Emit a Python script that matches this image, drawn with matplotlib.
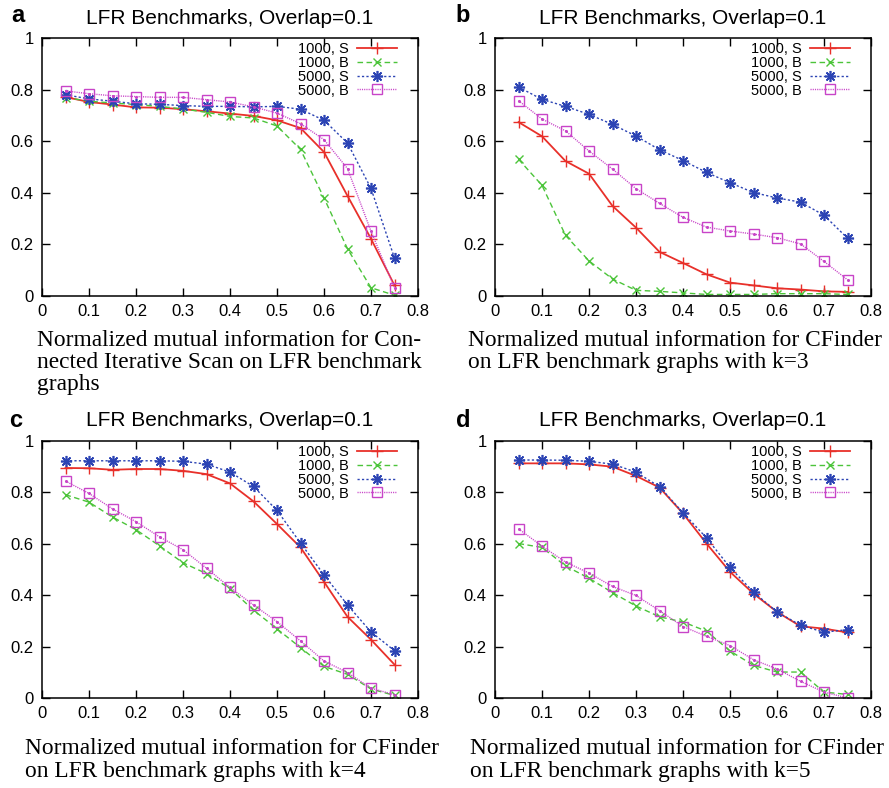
import numpy as np
import matplotlib
matplotlib.use("Agg")
import matplotlib.pyplot as plt
from typing import List, Tuple

# mixing parameter on the x axis
mu = [0.05, 0.1, 0.15, 0.2, 0.25, 0.3, 0.35, 0.4, 0.45, 0.5, 0.55, 0.6, 0.65, 0.7, 0.75]

series_labels = ["1000, S", "1000, B", "5000, S", "5000, B"]

# a: connected iterative scan
nmi_a_1000s = [0.771, 0.752, 0.742, 0.731, 0.730, 0.724, 0.716, 0.707, 0.698, 0.681, 0.651, 0.558, 0.388, 0.222, 0.041]
nmi_a_1000b = [0.769, 0.755, 0.748, 0.742, 0.735, 0.725, 0.712, 0.696, 0.690, 0.659, 0.568, 0.380, 0.183, 0.032, 0.003]
nmi_a_5000s = [0.780, 0.764, 0.755, 0.745, 0.743, 0.738, 0.735, 0.735, 0.733, 0.735, 0.724, 0.681, 0.593, 0.417, 0.147]
nmi_a_5000b = [0.795, 0.784, 0.776, 0.773, 0.770, 0.770, 0.761, 0.752, 0.733, 0.709, 0.668, 0.606, 0.494, 0.251, 0.032]

# b: cfinder k=3
nmi_b_1000s = [0.674, 0.619, 0.523, 0.474, 0.349, 0.265, 0.171, 0.128, 0.084, 0.052, 0.041, 0.030, 0.025, 0.018, 0.016]
nmi_b_1000b = [0.530, 0.429, 0.235, 0.136, 0.066, 0.022, 0.018, 0.012, 0.006, 0.006, 0.006, 0.009, 0.009, 0.009, 0.006]
nmi_b_5000s = [0.810, 0.762, 0.735, 0.704, 0.665, 0.620, 0.567, 0.525, 0.479, 0.439, 0.401, 0.380, 0.364, 0.313, 0.224]
nmi_b_5000b = [0.757, 0.686, 0.640, 0.562, 0.492, 0.416, 0.359, 0.305, 0.267, 0.252, 0.240, 0.226, 0.202, 0.134, 0.063]

# c: cfinder k=4
nmi_c_1000s = [0.895, 0.894, 0.888, 0.891, 0.891, 0.884, 0.871, 0.835, 0.765, 0.677, 0.586, 0.452, 0.316, 0.227, 0.130]
nmi_c_1000b = [0.791, 0.762, 0.704, 0.655, 0.592, 0.526, 0.484, 0.426, 0.342, 0.269, 0.196, 0.123, 0.092, 0.035, 0.010]
nmi_c_5000s = [0.923, 0.923, 0.923, 0.923, 0.923, 0.921, 0.910, 0.879, 0.823, 0.730, 0.603, 0.479, 0.362, 0.257, 0.184]
nmi_c_5000b = [0.844, 0.796, 0.736, 0.686, 0.627, 0.577, 0.505, 0.430, 0.362, 0.297, 0.222, 0.144, 0.099, 0.038, 0.013]

# d: cfinder k=5
nmi_d_1000s = [0.913, 0.913, 0.913, 0.909, 0.900, 0.864, 0.819, 0.718, 0.601, 0.491, 0.406, 0.335, 0.279, 0.270, 0.255]
nmi_d_1000b = [0.601, 0.586, 0.514, 0.466, 0.410, 0.358, 0.316, 0.296, 0.260, 0.183, 0.127, 0.101, 0.101, 0.023, 0.014]
nmi_d_5000s = [0.926, 0.926, 0.925, 0.921, 0.910, 0.879, 0.822, 0.721, 0.623, 0.508, 0.412, 0.335, 0.283, 0.256, 0.266]
nmi_d_5000b = [0.658, 0.591, 0.529, 0.486, 0.434, 0.399, 0.340, 0.278, 0.240, 0.204, 0.149, 0.113, 0.065, 0.023, 0.000]

x_ticks = [0, 0.1, 0.2, 0.3, 0.4, 0.5, 0.6, 0.7, 0.8]
x_tick_labels = ["0", "0.1", "0.2", "0.3", "0.4", "0.5", "0.6", "0.7", "0.8"]
y_ticks = [0, 0.2, 0.4, 0.6, 0.8, 1.0]
y_tick_labels = ["0", "0.2", "0.4", "0.6", "0.8", "1"]

panel_title = "LFR Benchmarks, Overlap=0.1"
panel_letters = ["a", "b", "c", "d"]
captions = [
    ["Normalized mutual information for Con-",
     "nected Iterative Scan on LFR benchmark",
     "graphs"],
    ["Normalized mutual information for CFinder",
     "on LFR benchmark graphs with k=3"],
    ["Normalized mutual information for CFinder",
     "on LFR benchmark graphs with k=4"],
    ["Normalized mutual information for CFinder",
     "on LFR benchmark graphs with k=5"],
]

W, H = 889, 788
SANS = "Liberation Sans"
SERIF = "Liberation Serif"

styles = [
    dict(color="#e8302a", ls="-", marker="+", ms=8, mew=1.0, lw=1.3),
    dict(color="#4cc43a", ls=(0, (4, 2.5)), marker="x", ms=6, mew=1.0, lw=1.0),
    dict(color="#2c44b4", ls=(0, (1.6, 1.6)), marker=(8, 2, 0), ms=8, mew=1.2, lw=1.0),
    dict(color="#c844c8", ls=(0, (0.8, 0.8)), marker="s", ms=6.5, mew=1.0, lw=1.0, mfc="none"),
]


def px_axes(fig, left: float, top: float, right: float, bottom: float):
    return fig.add_axes([left / W, 1 - bottom / H, (right - left) / W, (bottom - top) / H])


def draw_panel(ax, series: List[List[float]]) -> None:
    for vals, label, st in zip(series, series_labels, styles):
        ax.plot(mu, vals, label=label, **st)
    # gnuplot draws a small dot inside the open squares
    ax.plot(mu, series[3], ls="none", marker="o", ms=1.2, color=styles[3]["color"])
    ax.set_xlim(0, 0.8)
    ax.set_ylim(0, 1)
    ax.set_xticks(x_ticks)
    ax.set_xticklabels(x_tick_labels)
    ax.set_yticks(y_ticks)
    ax.set_yticklabels(y_tick_labels)
    ax.tick_params(direction="in", length=5.5, width=1.0, top=True, right=True,
                   labelsize=12, pad=6, colors="black")
    for lab in ax.get_xticklabels() + ax.get_yticklabels():
        lab.set_fontfamily(SANS)
    for sp in ax.spines.values():
        sp.set_linewidth(1.1)
    ax.legend(loc="upper right", bbox_to_anchor=(0.955, 1.0), frameon=False,
              markerfirst=False, handlelength=2.7, handletextpad=0.6,
              labelspacing=-0.02, borderpad=0.0, borderaxespad=0.3,
              prop={"family": SANS, "size": 10.5})


def main() -> None:
    fig = plt.figure(figsize=(W / 100, H / 100), dpi=100)

    panels = [
        ((42, 38, 418, 296), [nmi_a_1000s, nmi_a_1000b, nmi_a_5000s, nmi_a_5000b]),
        ((495, 38, 871, 296), [nmi_b_1000s, nmi_b_1000b, nmi_b_5000s, nmi_b_5000b]),
        ((42, 441, 418, 698), [nmi_c_1000s, nmi_c_1000b, nmi_c_5000s, nmi_c_5000b]),
        ((495, 441, 871, 698), [nmi_d_1000s, nmi_d_1000b, nmi_d_5000s, nmi_d_5000b]),
    ]
    letter_pos = [(18, 16), (463, 16), (16, 420), (463, 420)]
    caption_pos = [(37, 340), (468, 340), (25, 749), (470, 749)]

    for i, (box, series) in enumerate(panels):
        ax = px_axes(fig, *box)
        draw_panel(ax, series)
        cx = (box[0] + box[2]) / 2
        fig.text(cx / W, 1 - (box[1] - 20) / H, panel_title, ha="center", va="center",
                 family=SANS, fontsize=15)
        lx, ly = letter_pos[i]
        fig.text(lx / W, 1 - ly / H, panel_letters[i], ha="center", va="center",
                 family=SANS, fontsize=17, fontweight="bold")
        cx0, cy0 = caption_pos[i]
        for j, line in enumerate(captions[i]):
            fig.text(cx0 / W, 1 - (cy0 + 22.5 * j) / H, line, ha="left", va="center",
                     family=SERIF, fontsize=16.8)

    fig.savefig("out.png", dpi=100)


if __name__ == "__main__":
    main()
